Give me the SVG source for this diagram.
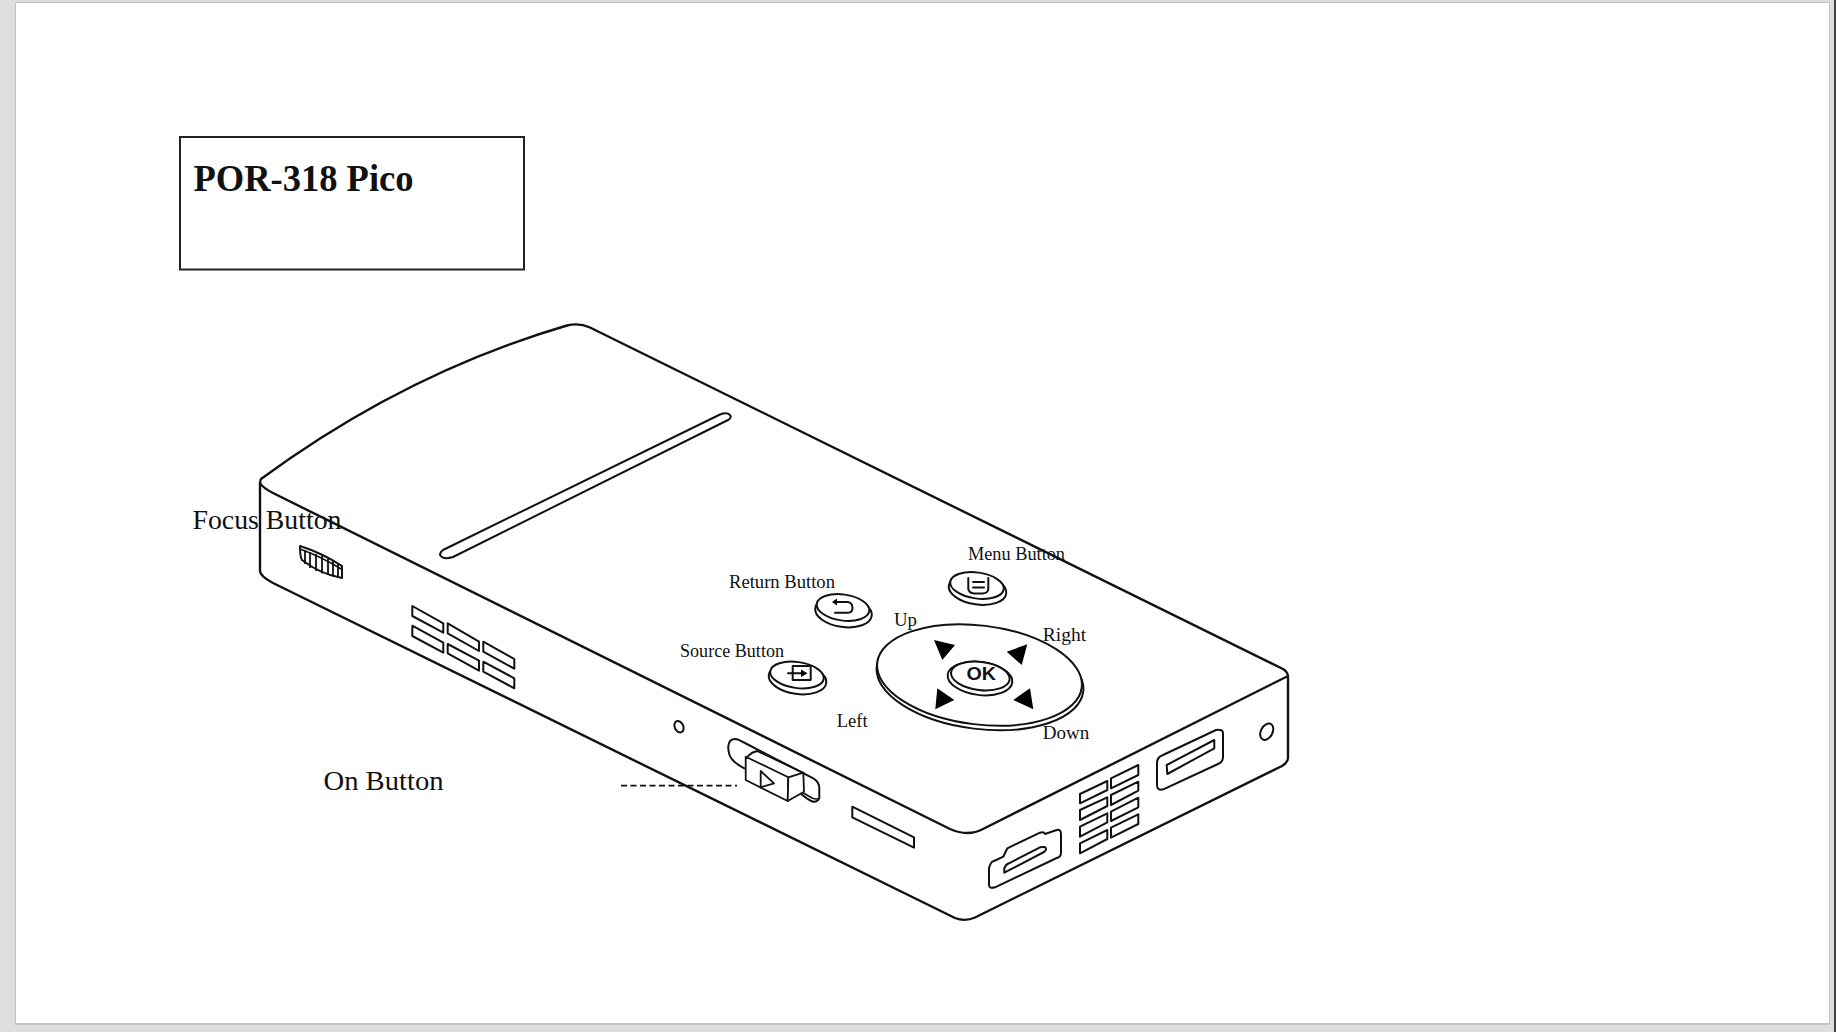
<svg xmlns="http://www.w3.org/2000/svg" width="1836" height="1032" viewBox="0 0 1836 1032">
<style>
.ln{fill:none;stroke:#111;stroke-width:2;stroke-linejoin:round;stroke-linecap:round}
.hv{fill:none;stroke:#111;stroke-width:2.400;stroke-linejoin:round;stroke-linecap:round}
.th{fill:none;stroke:#111;stroke-width:1.700;stroke-linejoin:round}
.wf{fill:#fff;stroke:#111;stroke-width:2;stroke-linejoin:round}
.fl{fill:#000;stroke:none}
text{font-family:"Liberation Serif","DejaVu Serif",serif;fill:#111}
.big{font-size:27px}
.sm{font-size:18.5px}
</style>
<rect width="1836" height="1032" fill="#dedede"/>
<rect x="1834" width="2" height="1032" fill="#444"/>
<rect x="15" y="2" width="1815" height="1023" fill="#c4c4c4"/>
<rect x="16" y="3" width="1813" height="1020" fill="#fff"/>

<g id="title-box">
<rect x="180" y="137" width="344" height="132.500" fill="#fff" stroke="#222" stroke-width="2"/>
<text x="193.500" y="191" font-size="38" font-weight="bold" fill="#000" textLength="220" lengthAdjust="spacingAndGlyphs">POR-318 Pico</text>
</g>

<g id="device-body">
<path class="hv" d="M261,479 Q405,373 567,325.500 Q579,322.500 590,327.500 L1283,669 Q1288,672 1288,677 L1288,758 Q1288,762 1282,766 L975,917.500 Q965,922 955,918 L273,583 Q260,576 260,571 L260,483 Q260,479.500 262,478"/>
<path class="hv" d="M260,483 Q263,488 273,493 L950,829 Q968,837 983,829 L1286,677"/>
</g>

<g id="projector-slot">
<path class="ln" d="M443,550 L720,414.500 Q727,412 730,415 Q732,418 728,420 L453,557 Q443,560 440,555 Q440,552 443,550Z"/>
</g>

<g id="focus-wheel">
<path class="wf" d="M300,546 Q322,553 342,566 L342,578 Q320,574 302,560 Q300,557 300,546Z"/>
<path class="th" d="M300,549 Q322,557 342,569.500"/>
<path class="wf" style="stroke-width:1.800" d="M305,550 V564 M310,552 V568 M316,554 V571 M322,556 V573.500 M328,559 V575 M333,561 V576.500 M338,564 V577.500"/>
</g>

<g id="side-vents">
<path class="ln" d="M412.300,606 L443.300,623.300 V632.700 L412.300,616Z M412.300,625.700 L443.300,642.700 V652.700 L412.300,636Z M447.700,623.300 L479,641.700 V651 L447.700,633.300Z M447.700,644 L479,660.700 V670.700 L447.700,653.300Z M483.300,641.700 L514.300,659 V668.700 L483.300,651.700Z M483.300,661.700 L514.300,678.300 V688.300 L483.300,671.700Z"/>
</g>

<g id="side-hole">
<ellipse class="ln" cx="679" cy="726.700" rx="4.300" ry="6" transform="rotate(-25 679 726.700)"/>
</g>

<g id="on-switch">
<path class="ln" d="M744.300,768.300 Q732,762 729.500,755 Q728,750 728.300,746 Q729,739 735,739 Q738,739 741,741 L813.300,778.300 Q819.300,782 819.300,788 L819.300,798 Q818,802 813,801.700 Q808,800 800,793"/>
<path class="th" d="M800,791 L812,798 Q817,800 819,798"/>
<path class="wf" style="stroke-width:1.800" d="M745.700,756.700 L788.300,777.300 L787.700,801 L745.700,780Z"/>
<path class="wf" style="stroke-width:1.800" d="M788.300,777.300 L803.300,772.700 L804,791.700 L787.700,801Z"/>
<path class="ln" style="stroke-width:1.800" d="M748,756 Q752,752 757,751 L803.300,772.700"/>
<path class="ln" style="stroke-width:1.800" d="M760.700,771 L774,783.300 L760.700,787.300Z"/>
</g>

<g id="side-slot">
<path class="ln" d="M852.300,806.700 L914,837.300 V847.700 L852.300,817.300Z"/>
</g>

<g id="hdmi-port">
<path class="ln" d="M989,868 Q991,861 994,861 L1003.300,856.700 L1007.300,848.300 L1040,832.700 Q1044,831.500 1045,834 L1056.700,830 Q1061,829 1061,834 L1061,853 Q1061,857 1056.700,858 L995,887.300 Q989,889 989,885Z"/>
<path class="ln" d="M1004.300,868.300 Q1006,864 1009,863.300 L1040,847.300 Q1046,846 1046,849 Q1046,851 1044,852 L1004.300,872.700Z"/>
</g>

<g id="front-vents">
<path class="ln" d="M1080,794 L1107.300,781 V790 L1080,803.300Z M1080,810 L1107.300,797.300 V806 L1080,820Z M1080,826.700 L1107.300,813.300 V822.300 L1080,836.700Z M1080,843.300 L1107.300,830 V839 L1080,853.300Z M1111,778.300 L1138.300,765 V775 L1111,788.300Z M1111,795 L1138.300,781.700 V790.700 L1111,805Z M1111,811.700 L1138.300,797.700 V807.300 L1111,821Z M1111,827.700 L1138.300,814.300 V824 L1111,837.700Z"/>
</g>

<g id="usb-port">
<path class="ln" d="M1157,763 Q1157,757 1163,755 L1216,730 Q1223,729 1223,733 L1223,757 Q1223,762 1218,764 L1163.300,789.300 Q1157,791 1157,785Z"/>
<path class="ln" d="M1166.700,765 L1214.300,740 V748.300 L1167.300,774Z"/>
</g>

<g id="front-hole">
<ellipse class="ln" cx="1266.700" cy="731.700" rx="5.800" ry="8.800" transform="rotate(28 1266.700 731.700)"/>
</g>

<g id="menu-button">
<ellipse class="wf" cx="977.500" cy="589.500" rx="29" ry="15" transform="rotate(8 977.500 589.500)"/>
<ellipse class="wf" cx="977" cy="585.500" rx="27" ry="13" transform="rotate(8 977 585.500)"/>
<path class="ln" d="M968.300,578 V589 Q969,593 974,593.500 H983 Q988,593 988.300,589 V578 M973,582 H984 M973,587.500 H984"/>
</g>

<g id="return-button">
<ellipse class="wf" cx="843.500" cy="612" rx="28.500" ry="15" transform="rotate(8 843.500 612)"/>
<ellipse class="wf" cx="843" cy="607.500" rx="26.500" ry="13" transform="rotate(8 843 607.500)"/>
<path class="ln" d="M835,602 H848 Q852.500,603 852.500,608 Q852.500,612.700 848,612.700 H835"/>
<path class="fl" d="M832,602 L837,598.500 V605.500Z"/>
</g>

<g id="source-button">
<ellipse class="wf" cx="797.500" cy="679" rx="29" ry="15" transform="rotate(8 797.500 679)"/>
<ellipse class="wf" cx="797" cy="675" rx="27" ry="13" transform="rotate(8 797 675)"/>
<rect class="ln" x="792.700" y="666" width="18" height="14"/>
<path class="ln" d="M788,673.300 H803"/>
<path class="fl" d="M807.500,673.300 L801,669.500 V677Z"/>
</g>

<g id="dpad">
<ellipse class="wf" cx="980" cy="679" rx="104" ry="50" transform="rotate(7 980 679)"/>
<ellipse class="wf" cx="979.500" cy="675" rx="103" ry="49.500" transform="rotate(7 979.500 675)"/>
<path class="fl" d="M934,640 L955,645 L942.300,660Z"/>
<path class="fl" d="M1006.700,651.700 L1027.300,644.300 L1021.700,665Z"/>
<path class="fl" d="M937.300,688.300 L954.300,700 L935.300,709.300Z"/>
<path class="fl" d="M1030,688.300 L1033.300,709.300 L1013.300,700Z"/>
<ellipse class="wf" cx="980" cy="678.500" rx="32.500" ry="16.500" transform="rotate(7 980 678.500)"/>
<ellipse class="wf" cx="980.300" cy="676" rx="29.500" ry="14" transform="rotate(7 980.300 676)"/>
<text x="966.500" y="680" font-size="18.500" font-weight="bold" textLength="29.500" lengthAdjust="spacingAndGlyphs" style="font-family:'Liberation Sans',Arial,sans-serif" fill="#000">OK</text>
</g>

<g id="connectors">
<path d="M621,785.700 H737" fill="none" stroke="#111" stroke-width="1.800" stroke-dasharray="6 3.500"/>
</g>

<g id="labels">
<text class="big" x="192.500" y="528.500" textLength="149" lengthAdjust="spacingAndGlyphs">Focus Button</text>
<text class="big" x="323.500" y="790" textLength="120" lengthAdjust="spacingAndGlyphs">On Button</text>
<text class="sm" x="968" y="560" textLength="97" lengthAdjust="spacingAndGlyphs">Menu Button</text>
<text class="sm" x="729" y="588.300" textLength="106" lengthAdjust="spacingAndGlyphs">Return Button</text>
<text class="sm" x="680" y="656.700" textLength="104" lengthAdjust="spacingAndGlyphs">Source Button</text>
<text class="sm" x="894" y="625.700" textLength="23" lengthAdjust="spacingAndGlyphs">Up</text>
<text class="sm" x="1042.700" y="640.500" textLength="43.500" lengthAdjust="spacingAndGlyphs">Right</text>
<text class="sm" x="836.700" y="726.700" textLength="31" lengthAdjust="spacingAndGlyphs">Left</text>
<text class="sm" x="1042.700" y="738.500" textLength="46.500" lengthAdjust="spacingAndGlyphs">Down</text>
</g>
</svg>
